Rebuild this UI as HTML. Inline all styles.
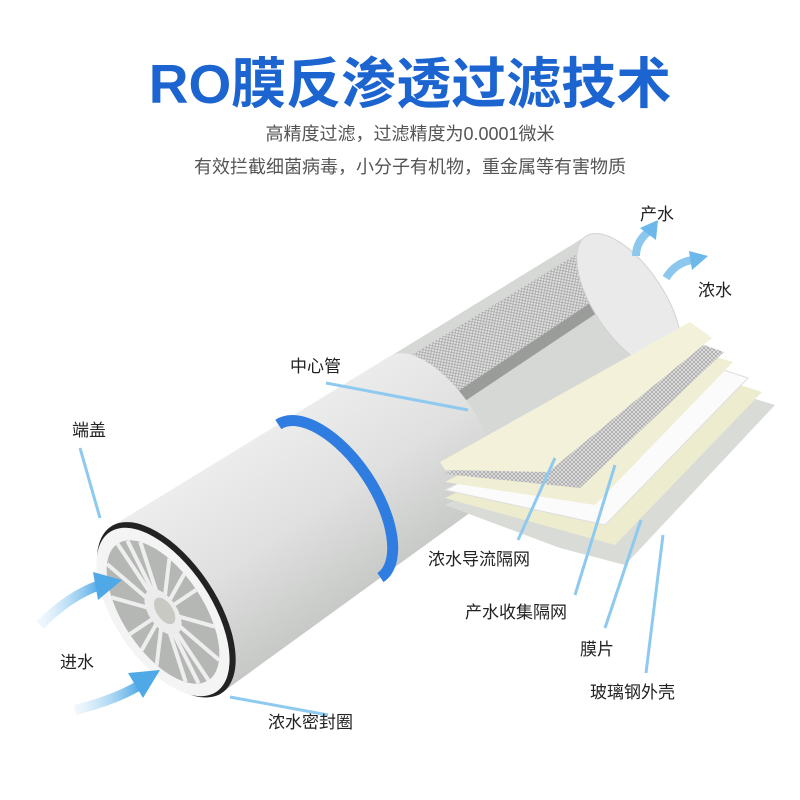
<!DOCTYPE html>
<html><head><meta charset="utf-8"><style>
body{margin:0;background:#fff;}
svg{display:block}
text{font-family:"Liberation Sans","Noto Sans CJK SC",sans-serif;}
</style></head><body>
<svg width="800" height="800" viewBox="0 0 800 800" xmlns="http://www.w3.org/2000/svg">
<defs>
<linearGradient id="body" x1="0" y1="0" x2="0" y2="1">
<stop offset="0" stop-color="#ecedec"/><stop offset="0.5" stop-color="#dfe0df"/><stop offset="1" stop-color="#c6c8c6"/></linearGradient>
<linearGradient id="arr" x1="0" y1="0" x2="1" y2="0"><stop offset="0" stop-color="#cfe8f8" stop-opacity="0.3"/><stop offset="1" stop-color="#4fa9e6"/></linearGradient>
<pattern id="mesh" width="4" height="4" patternUnits="userSpaceOnUse"><rect width="4" height="4" fill="#e4e4e4"/><path d="M0 0L4 4M4 0L0 4" stroke="#a8a8a8" stroke-width="0.8"/></pattern>
</defs>
<text x="410" y="103" text-anchor="middle" font-size="55" font-weight="bold" fill="#1c64cf">RO膜反渗透过滤技术</text>
<text x="410" y="140" text-anchor="middle" font-size="18" fill="#555">高精度过滤，过滤精度为0.0001微米</text>
<text x="410" y="173" text-anchor="middle" font-size="18" fill="#555">有效拦截细菌病毒，小分子有机物，重金属等有害物质</text>

<g transform="translate(163,612) rotate(-33.7)">
 <!-- back open section -->
 <polygon points="320,-87 560,-78 560,78 320,87" fill="#d6d8d6"/>
 <polygon points="340,-76 548,-68 548,-8 340,-8" fill="url(#mesh)"/>
 <rect x="340" y="-20" width="208" height="12" fill="#9a9c9a"/>
 <ellipse cx="560" cy="0" rx="35" ry="78" fill="#e9eae9" stroke="#d2d2d2"/>
 <!-- main body -->
 <path d="M0,-100 L330,-87 A40,87 0 0 1 330,87 L0,100 Z" fill="url(#body)"/>
 <path d="M200,-92 A45,92 0 0 1 200,92" fill="none" stroke="#2f7de0" stroke-width="11"/>
 <!-- end cap -->
 <ellipse cx="4" cy="0" rx="50" ry="100" fill="#222"/>
 <ellipse cx="0" cy="0" rx="48" ry="96" fill="#f4f4f4"/>
 <ellipse cx="0" cy="0" rx="40" ry="82" fill="#b5b7b5"/>
 <g stroke="#eeeeee" stroke-width="4">
  <line x1="0" y1="0" x2="0" y2="-82"/><line x1="0" y1="0" x2="0" y2="82"/>
  <line x1="0" y1="0" x2="40" y2="0"/><line x1="0" y1="0" x2="-40" y2="0"/>
  <line x1="0" y1="0" x2="20" y2="-71"/><line x1="0" y1="0" x2="-20" y2="-71"/>
  <line x1="0" y1="0" x2="20" y2="71"/><line x1="0" y1="0" x2="-20" y2="71"/>
  <line x1="0" y1="0" x2="35" y2="-41"/><line x1="0" y1="0" x2="-35" y2="-41"/>
  <line x1="0" y1="0" x2="35" y2="41"/><line x1="0" y1="0" x2="-35" y2="41"/>
  <line x1="0" y1="0" x2="10" y2="-79"/><line x1="0" y1="0" x2="-10" y2="79"/>
  <line x1="0" y1="0" x2="39" y2="-20"/><line x1="0" y1="0" x2="-39" y2="20"/>
 </g>
 <ellipse cx="0" cy="0" rx="14" ry="26" fill="#ececec"/>
 <ellipse cx="2" cy="0" rx="8" ry="15" fill="#c9c9c4"/>
</g>

<!-- layers -->
<polygon points="445,505 700,382 775,405 625,565 560,548" fill="#d9dbd7"/>
<polygon points="445,498 700,372 762,392 615,545" fill="#eeeccf"/>
<polygon points="445,490 700,362 748,378 605,525" fill="#fbfbfb" stroke="#ddd"/>
<polygon points="445,482 692,350 733,362 595,505" fill="#f0eed4"/>
<polygon points="445,474 684,338 724,352 580,488" fill="url(#mesh)"/>
<polygon points="440,462 690,322 712,338 548,472 445,470" fill="#f3f1d9"/>

<!-- arrows -->
<path d="M40,625 Q70,595 100,585" fill="none" stroke="url(#arr)" stroke-width="10"/>
<polygon points="93,572 122,580 98,600" fill="#4fa9e6"/>
<path d="M75,710 Q115,700 140,685" fill="none" stroke="url(#arr)" stroke-width="10"/>
<polygon points="128,673 160,670 143,698" fill="#4fa9e6"/>
<path d="M636,256 Q636,242 648,232" fill="none" stroke="#8cc8ee" stroke-width="8"/>
<polygon points="640,228 658,220 656,240" fill="#6cb8ea"/>
<path d="M666,278 Q676,262 693,260" fill="none" stroke="#8cc8ee" stroke-width="8"/>
<polygon points="689,251 708,256 692,270" fill="#6cb8ea"/>

<!-- leader lines -->
<g stroke="#8ecaef" stroke-width="3" fill="none">
<line x1="326" y1="383" x2="468" y2="410"/>
<line x1="100" y1="518" x2="80" y2="448"/>
<line x1="230" y1="697" x2="328" y2="715"/>
<line x1="555" y1="458" x2="518" y2="540"/>
<line x1="615" y1="465" x2="575" y2="595"/>
<line x1="641" y1="520" x2="605" y2="628"/>
<line x1="663" y1="535" x2="646" y2="673"/>
</g>

<g font-size="17" fill="#222">
<text x="640" y="220">产水</text>
<text x="698" y="296">浓水</text>
<text x="290" y="372">中心管</text>
<text x="72" y="436">端盖</text>
<text x="60" y="668">进水</text>
<text x="268" y="728">浓水密封圈</text>
<text x="428" y="565">浓水导流隔网</text>
<text x="465" y="618">产水收集隔网</text>
<text x="580" y="655">膜片</text>
<text x="590" y="698">玻璃钢外壳</text>
</g>
</svg>
</body></html>
